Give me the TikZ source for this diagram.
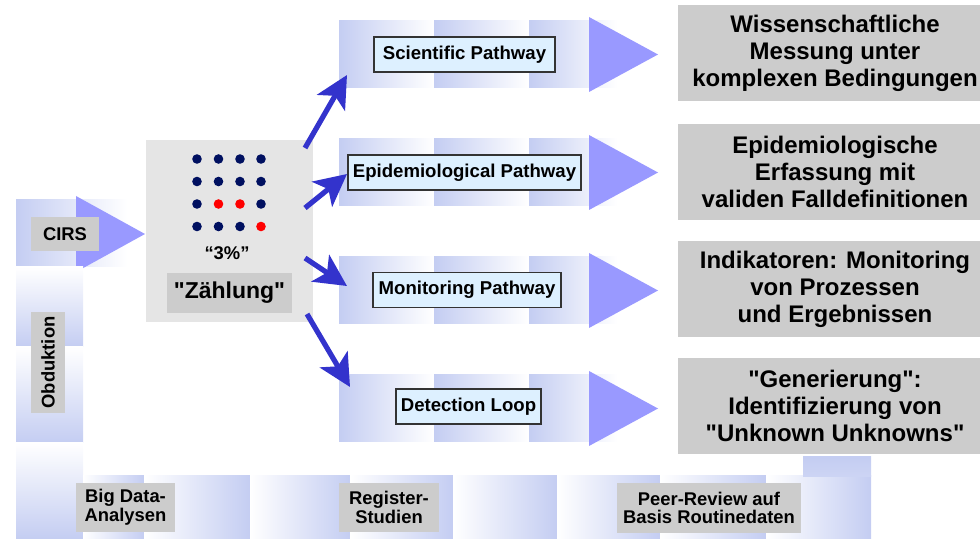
\documentclass[tikz,border=0pt]{standalone}
\usepackage{fontspec}
\setmainfont{Liberation Sans}
\usepackage{tikz}
\usetikzlibrary{arrows.meta,positioning,shapes.geometric}
\definecolor{bandblue}{RGB}{196,205,242}
\definecolor{headblue}{RGB}{153,153,255}
\definecolor{arrowblue}{RGB}{51,51,204}
\definecolor{boxgray}{RGB}{204,204,204}
\definecolor{panelgray}{RGB}{229,229,229}
\definecolor{labelfill}{RGB}{221,240,255}
\definecolor{labelframe}{RGB}{51,51,51}
\definecolor{dotnavy}{RGB}{0,16,96}
\definecolor{dotred}{RGB}{255,0,0}
\tikzset{
pathlabel/.style = {draw=labelframe, fill=labelfill, line width=0.6pt, inner sep=0pt,
minimum height=17.5pt, font=\bfseries\fontsize{9.3}{10}\selectfont},% pathway label
resultbox/.style = {fill=boxgray, align=center, inner sep=0pt, minimum width=157pt,
minimum height=48pt, font=\bfseries\fontsize{12}{13.5}\selectfont},% result on the right
sourcebox/.style = {fill=boxgray, align=center, inner sep=0pt, minimum height=24.5pt,
font=\bfseries\fontsize{9.2}{9.4}\selectfont},% data source
flowarrow/.style = {draw=arrowblue, line width=2.6pt, -{Stealth[length=16pt, width=16pt, inset=4pt]}},
rowband/.style = {left color=bandblue, right color=white},
loopband/.style = {left color=white, right color=bandblue},
riseband/.style = {top color=white, bottom color=bandblue}
}
\newcommand{\qt}{\textquotedbl}
\begin{document}
\begin{tikzpicture}[x=0.5pt, y=-0.5pt]
  \useasboundingbox (0,0) rectangle (980,539);
  % pathway bands
  \foreach \t in {21,139,257,375} {
    \foreach \a/\b in {339/434, 434/529, 529/617}
      \shade[rowband] (\a,\t) rectangle (\b,\t+67);
    \fill[headblue] (589,\t-4) -- (658,\t+33.5) -- (589,\t+71) -- cycle;
  }
  % feedback loop
  \shade[rowband] (16,200) rectangle (127,267);
  \fill[headblue] (76,196) -- (145,234) -- (76,272) -- cycle;
  \foreach \a/\b in {267/347, 347/443, 443/539}
    \shade[riseband] (16,\a) rectangle (83,\b);
  \foreach \a/\b in {83/144, 144/250, 250/350, 350/453, 453/557, 557/660, 660/766, 766/871}
    \shade[loopband] (\a,476) rectangle (\b,539);
  \shade[top color=bandblue, bottom color=bandblue!85] (803,457) rectangle (871,477);
  % counting panel
  \node[fill=panelgray, inner sep=0pt, minimum width=83.5pt, minimum height=91pt] (panel) at (229.5,231) {};
  \foreach \x/\y in {197/159, 218.5/159, 240/159, 261/159, 197/181.5, 218.5/181.5, 240/181.5,
      261/181.5, 197/204, 261/204, 197/226.5, 218.5/226.5, 240/226.5}
    \fill[dotnavy] (\x,\y) circle (4.8);
  \foreach \x/\y in {218.5/204, 240/204, 261/226.5}
    \fill[dotred] (\x,\y) circle (4.8);
  \node[font=\bfseries\fontsize{9.2}{10}\selectfont] (share) at (227,253) {“3\%”};
  \node[sourcebox, minimum width=62.5pt, minimum height=20pt,
    font=\bfseries\fontsize{11.5}{12}\selectfont] (count) at (229.5,293) {\qt Zählung\qt};
  % sources
  \node[sourcebox, minimum width=34pt, minimum height=17pt] (cirs) at (65,234) {CIRS};
  \node[sourcebox, rotate=90, minimum width=50.5pt, minimum height=17pt] (obd) at (48,362.5) {Obduktion};
  \node[sourcebox, minimum width=49.5pt] (bigdata) at (125.5,507.5) {Big Data-\\Analysen};
  \node[sourcebox, minimum width=50pt] (register) at (389,507.5) {Register-\\Studien};
  \node[sourcebox, minimum width=92pt] (peer) at (709,508) {Peer-Review auf\\Basis Routinedaten};
  % pathways
  \node[pathlabel, minimum width=90.5pt] (sci) at (464.5,54.5) {Scientific Pathway};
  \node[pathlabel, minimum width=116.5pt] (epi) at (464.5,172.5) {Epidemiological Pathway};
  \node[pathlabel, minimum width=94pt] (mon) at (467,290) {Monitoring Pathway};
  \node[pathlabel, minimum width=72.5pt] (det) at (468.5,406.5) {Detection Loop};
  % results
  \node[resultbox] (res sci) at (835,53) {Wissenschaftliche\\Messung unter\\komplexen Bedingungen};
  \node[resultbox] (res epi) at (835,172) {Epidemiologische\\Erfassung mit\\validen Falldefinitionen};
  \node[resultbox] (res mon) at (835,289) {Indikatoren: Monitoring\\von Prozessen\\und Ergebnissen};
  \node[resultbox] (res det) at (835,406) {\qt Generierung\qt:\\Identifizierung von\\\qt Unknown Unknowns\qt};
  % arrows from the panel
  \coordinate (out sci) at (305,148);
  \coordinate (out epi) at (305,208);
  \coordinate (out mon) at (305,258);
  \coordinate (out det) at (307,314);
  \coordinate (in sci) at (347,75);
  \coordinate (in epi) at (347,174);
  \coordinate (in mon) at (347,286);
  \coordinate (in det) at (350,387);
  \draw[flowarrow] (out sci) -- (in sci);
  \draw[flowarrow] (out epi) -- (in epi);
  \draw[flowarrow] (out mon) -- (in mon);
  \draw[flowarrow] (out det) -- (in det);
\end{tikzpicture}
\end{document}
